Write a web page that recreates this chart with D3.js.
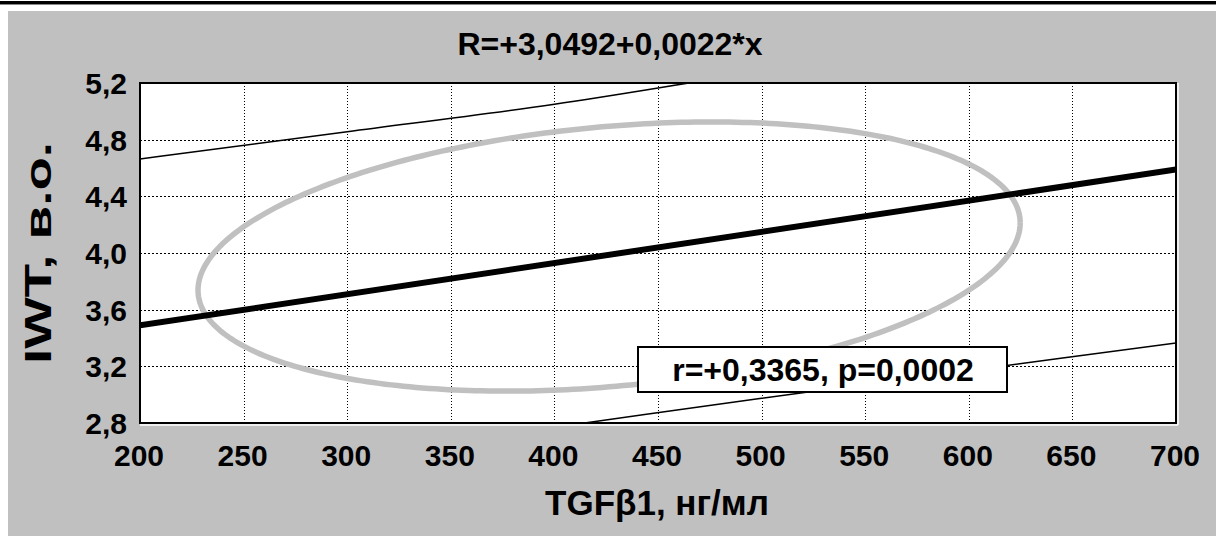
<!DOCTYPE html>
<html><head><meta charset="utf-8">
<script src="https://cdn.jsdelivr.net/npm/d3@7"></script>
<style>html,body{margin:0;padding:0;background:#fff;}svg{display:block;}</style>
</head><body>
<svg id="chart" width="1216" height="536"></svg>
<script>
// ---- data ----
const titleText = "R=+3,0492+0,0022*x";
const xLabelText = "TGFβ1, нг/мл";
const yLabelText = "IWT, в.о.";
const legendText = "r=+0,3365, p=0,0002";
const xTicks = [200, 250, 300, 350, 400, 450, 500, 550, 600, 650, 700];
const yTicks = [2.8, 3.2, 3.6, 4.0, 4.4, 4.8, 5.2];
const xDomain = [200, 700];
const yDomain = [2.8, 5.2];
const regIntercept = 3.0492;
const regSlope = 0.0022;
const bandX = [200, 300, 400, 500, 600, 700];
const upperBand = [4.664, 4.856, 5.05, 5.28, 5.48, 5.69];
const lowerBand = [2.37, 2.57, 2.77, 2.975, 3.17, 3.365];
const ellipseCenter = [426.4, 3.975];
const ellipseRadii = [198.4, 0.95];
const ellipseRho = 0.25;

// ---- layout ----
const svg = d3.select("#chart");
const m = {left: 140, top: 83, right: 1176, bottom: 423};
const x = d3.scaleLinear().domain(xDomain).range([m.left, m.right]);
const y = d3.scaleLinear().domain(yDomain).range([m.bottom, m.top]);
const fmt = v => d3.format(".1f")(v).replace(".", ",");
const font = "'Liberation Sans', Arial, sans-serif";

svg.append("rect").attr("x", 0).attr("y", 1).attr("width", 1216).attr("height", 3).attr("fill", "#000");
svg.append("rect").attr("x", 0).attr("y", 4).attr("width", 1216).attr("height", 1).attr("fill", "#888");
svg.append("rect").attr("x", 8).attr("y", 11).attr("width", 1208).attr("height", 525).attr("fill", "#c0c0c0");

svg.append("rect").attr("x", m.left).attr("y", m.top)
  .attr("width", m.right - m.left).attr("height", m.bottom - m.top).attr("fill", "#fff");

svg.append("defs").append("clipPath").attr("id", "clip")
  .append("rect").attr("x", m.left).attr("y", m.top)
  .attr("width", m.right - m.left).attr("height", m.bottom - m.top);

// grid
const g = svg.append("g");
g.selectAll(".vg").data(xTicks.slice(1, -1)).join("line")
  .attr("x1", d => Math.round(x(d)) + 0.5).attr("x2", d => Math.round(x(d)) + 0.5)
  .attr("y1", m.top).attr("y2", m.bottom)
  .attr("stroke", "#000").attr("stroke-width", 1).attr("stroke-dasharray", "1,2");
g.selectAll(".hg").data(yTicks.slice(1, -1)).join("line")
  .attr("y1", d => Math.round(y(d)) + 0.5).attr("y2", d => Math.round(y(d)) + 0.5)
  .attr("x1", m.left).attr("x2", m.right)
  .attr("stroke", "#000").attr("stroke-width", 1).attr("stroke-dasharray", "2,2");

const plot = svg.append("g").attr("clip-path", "url(#clip)");

// ellipse
const ts = d3.range(0, 2 * Math.PI + 0.001, Math.PI / 180);
const ellPts = ts.map(t => [
  ellipseCenter[0] + ellipseRadii[0] * Math.cos(t),
  ellipseCenter[1] + ellipseRadii[1] * (ellipseRho * Math.cos(t) + Math.sqrt(1 - ellipseRho * ellipseRho) * Math.sin(t))
]);
plot.append("path").datum(ellPts)
  .attr("d", d3.line().x(d => x(d[0])).y(d => y(d[1])))
  .attr("fill", "none").attr("stroke", "#c0c0c0").attr("stroke-width", 5.5);

// bands
const bandLine = d3.line().x(d => x(d[0])).y(d => y(d[1])).curve(d3.curveMonotoneX);
plot.append("path").datum(bandX.map((v, i) => [v, upperBand[i]]))
  .attr("d", bandLine).attr("fill", "none").attr("stroke", "#000").attr("stroke-width", 1.5);
plot.append("path").datum(bandX.map((v, i) => [v, lowerBand[i]]))
  .attr("d", bandLine).attr("fill", "none").attr("stroke", "#000").attr("stroke-width", 1.5);

// regression
plot.append("line")
  .attr("x1", x(xDomain[0])).attr("y1", y(regIntercept + regSlope * xDomain[0]))
  .attr("x2", x(xDomain[1])).attr("y2", y(regIntercept + regSlope * xDomain[1]))
  .attr("stroke", "#000").attr("stroke-width", 6);

// frame
svg.append("line").attr("x1", m.left).attr("x2", m.right + 2).attr("y1", m.bottom + 2).attr("y2", m.bottom + 2).attr("stroke", "#fff").attr("stroke-width", 1.5);
svg.append("line").attr("x1", m.right + 2).attr("x2", m.right + 2).attr("y1", m.top).attr("y2", m.bottom + 2).attr("stroke", "#fff").attr("stroke-width", 1.5);
svg.append("rect").attr("x", m.left).attr("y", m.top)
  .attr("width", m.right - m.left).attr("height", m.bottom - m.top)
  .attr("fill", "none").attr("stroke", "#000").attr("stroke-width", 2);

// legend box
const lb = svg.append("g");
lb.append("rect").attr("x", 638).attr("y", 347).attr("width", 369).attr("height", 45)
  .attr("fill", "#fff").attr("stroke", "#000").attr("stroke-width", 2);
lb.append("text").attr("x", 823).attr("y", 381).attr("text-anchor", "middle")
  .attr("font-family", font).attr("font-weight", "bold").attr("font-size", 32).text(legendText);

// ticks
svg.append("g").selectAll("text").data(yTicks).join("text")
  .attr("x", 127).attr("y", d => y(d) + 11).attr("text-anchor", "end")
  .attr("font-family", font).attr("font-weight", "bold").attr("font-size", 30)
  .text(d => fmt(d));
svg.append("g").selectAll("text").data(xTicks).join("text")
  .attr("x", d => x(d) - 1).attr("y", 466).attr("text-anchor", "middle")
  .attr("font-family", font).attr("font-weight", "bold").attr("font-size", 30)
  .text(d => d);

// title & labels
svg.append("text").attr("x", 610).attr("y", 55).attr("text-anchor", "middle")
  .attr("font-family", font).attr("font-weight", "bold").attr("font-size", 32).text(titleText);
svg.append("text").attr("x", 657).attr("y", 515).attr("text-anchor", "middle")
  .attr("font-family", font).attr("font-weight", "bold").attr("font-size", 35).text(xLabelText);
svg.append("text").attr("transform", "translate(51,253) rotate(-90)").attr("text-anchor", "middle")
  .attr("font-family", font).attr("font-weight", "bold").attr("font-size", 36)
  .attr("textLength", 222).attr("lengthAdjust", "spacingAndGlyphs").text(yLabelText);
</script>
</body></html>
